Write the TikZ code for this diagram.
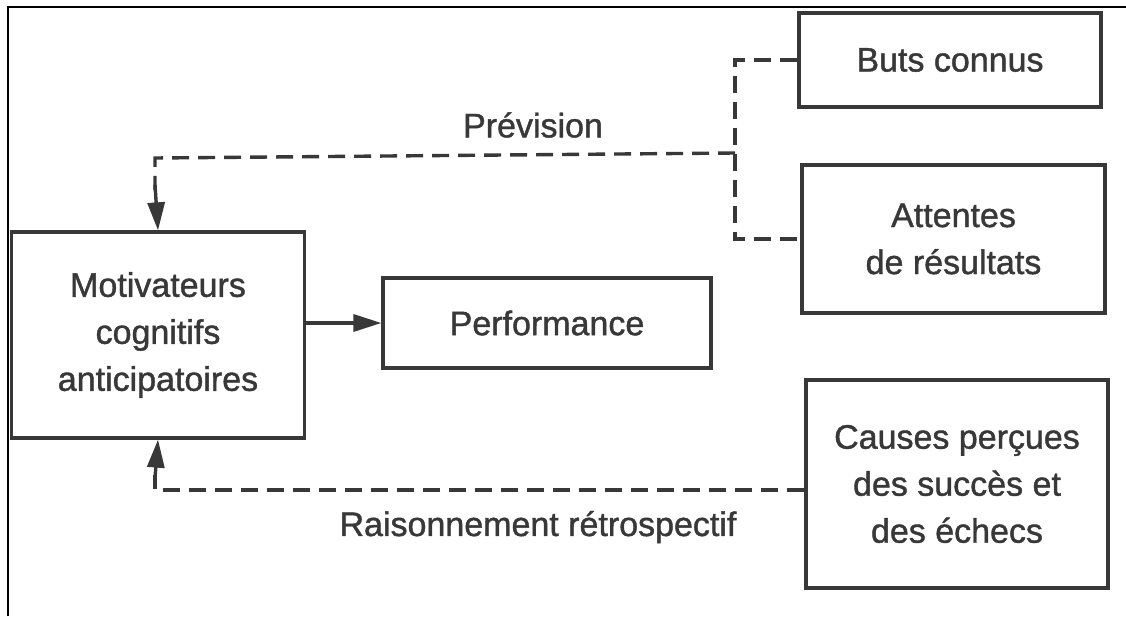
\documentclass[tikz,border=0pt]{standalone}
\usepackage{fontspec}
\setmainfont{Liberation Sans}
\newfontfamily\dfont{Liberation Sans}[FakeBold=1.2]
\usetikzlibrary{arrows.meta}
\definecolor{ink}{HTML}{383838}
\tikzset{
  boxnode/.style={draw=ink, line width=3.2pt, rectangle, inner sep=0pt, align=center,
    text=ink, font=\dfont\fontsize{34}{47}\selectfont},
  lbl/.style={text=ink, font=\dfont\fontsize{34}{41}\selectfont, inner sep=0pt},
  dashline/.style={draw=ink, line width=3.4pt, dash pattern=on 17pt off 9pt},
  solidarrow/.style={draw=ink, line width=3.4pt, -{Triangle[length=28pt,width=17pt]}},
  headtip/.style={-{Triangle[length=28pt,width=17pt]}}
}
\begin{document}
\begin{tikzpicture}[x=1pt,y=-1pt]
\useasboundingbox (0,0) rectangle (1126,616);
\fill[white] (0,0) rectangle (1126,616);
% frame
\draw[black, line width=2pt] (8,616) -- (8,7) -- (1126,7);
% boxes
\node[boxnode, minimum width=302pt, minimum height=94pt] (buts) at (950,60) {Buts connus};
\node[boxnode, minimum width=303pt, minimum height=148pt] (att) at (953.5,239) {Attentes\\de résultats};
\node[boxnode, minimum width=302pt, minimum height=208pt] (causes) at (957,484) {Causes perçues\\des succès et\\des échecs};
\node[boxnode, minimum width=293pt, minimum height=206pt] (motiv) at (158,335) {Motivateurs\\cognitifs\\anticipatoires};
\node[boxnode, minimum width=328pt, minimum height=90pt] (perf) at (547,323) {Performance};
% labels
\node[lbl] (prev) at (533,125) {Prévision};
\node[lbl] (rais) at (538,527) {Raisonnement rétrospectif};
% solid arrow
\draw[solidarrow] (motiv.east |- perf.west) -- (perf.west);
% prevision connectors
\coordinate (jx) at (735,153);
\draw[dashline] (buts.west) -- (buts.west -| jx) -- (att.west -| jx) -- (att.west);
\coordinate (pc) at (155,158);
\draw[dashline] (jx) -- (pc) -- (pc |- 0,190);
\draw[draw=ink, line width=3.4pt, headtip] (pc |- 0,185) -- (motiv.north);
% retrospective connector
\coordinate (rc) at (155,490);
\draw[dashline] (causes.west |- rc) -- (rc) -- (rc |- 0,475);
\draw[draw=ink, line width=3.4pt, headtip] (rc |- 0,478) -- (motiv.south);
\end{tikzpicture}
\end{document}
